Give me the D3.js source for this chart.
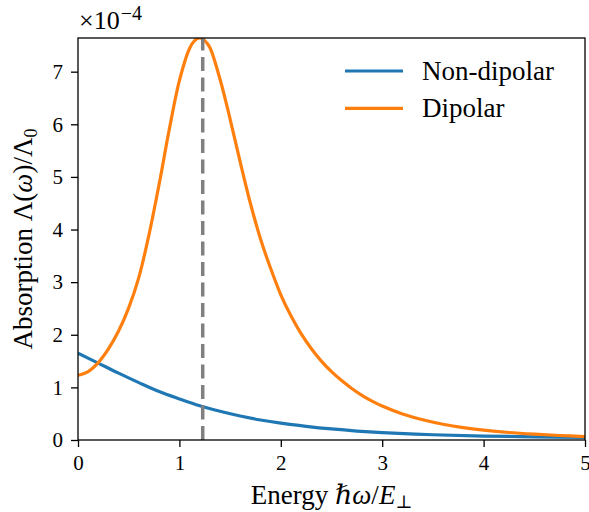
<!DOCTYPE html>
<html>
<head>
<meta charset="utf-8">
<script src="https://cdn.jsdelivr.net/npm/d3@7"></script>
<style>
  body { margin: 0; background: #fff; }
  svg { font-family: "Liberation Serif", "DejaVu Serif", serif; }
</style>
</head>
<body>
<svg id="chart" width="589" height="512"></svg>
<script>
// values are in units of 1e-4 (see the ×10^-4 offset label)
const energyDipolar = [0, 0.1, 0.2, 0.3, 0.4, 0.5, 0.6, 0.7, 0.8, 0.9, 1.0, 1.1, 1.15, 1.2, 1.25, 1.3, 1.4, 1.5, 1.6, 1.7, 1.8, 1.9, 2.0, 2.1, 2.2, 2.3, 2.4, 2.5, 2.6, 2.7, 2.8, 2.9, 3.0, 3.2, 3.4, 3.6, 3.8, 4.0, 4.25, 4.5, 4.75, 5.0];
const dipolar = [1.23, 1.30, 1.47, 1.73, 2.07, 2.51, 3.09, 3.90, 4.86, 5.90, 6.83, 7.44, 7.59, 7.64, 7.59, 7.46, 6.86, 6.10, 5.28, 4.50, 3.82, 3.26, 2.76, 2.36, 2.02, 1.74, 1.50, 1.30, 1.13, 0.98, 0.85, 0.74, 0.645, 0.495, 0.385, 0.30, 0.235, 0.187, 0.142, 0.11, 0.085, 0.066];

const energyNonDipolar = [0, 0.2, 0.4, 0.6, 0.8, 1.0, 1.2, 1.4, 1.6, 1.8, 2.0, 2.25, 2.5, 2.75, 3.0, 3.5, 4.0, 4.5, 5.0];
const nonDipolar = [1.65, 1.46, 1.27, 1.09, 0.92, 0.78, 0.65, 0.545, 0.455, 0.38, 0.32, 0.26, 0.21, 0.17, 0.14, 0.10, 0.075, 0.06, 0.05];

const peakEnergy = 1.23;
const xTicks = [0, 1, 2, 3, 4, 5];
const yTicks = [0, 1, 2, 3, 4, 5, 6, 7];

const blue = '#1f77b4';
const orange = '#ff7f0e';

const svg = d3.select('#chart');
const margin = { top: 38, right: 4, bottom: 72, left: 78 };
const width = 589 - margin.left - margin.right;
const height = 512 - margin.top - margin.bottom;

const x = d3.scaleLinear().domain([0, 5]).range([0, width]);
const y = d3.scaleLinear().domain([0, d3.max(dipolar)]).range([height, 0]);

const g = svg.append('g').attr('transform', `translate(${margin.left},${margin.top})`);

g.append('clipPath').attr('id', 'clip')
  .append('rect').attr('width', width).attr('height', height);

const plot = g.append('g').attr('clip-path', 'url(#clip)');

const line = d3.line()
  .x(d => x(d[0]))
  .y(d => y(d[1]))
  .curve(d3.curveCatmullRom.alpha(0.5));

plot.append('path')
  .attr('d', line(d3.zip(energyNonDipolar, nonDipolar)))
  .attr('fill', 'none')
  .attr('stroke', blue)
  .attr('stroke-width', 3.2);

plot.append('path')
  .attr('d', line(d3.zip(energyDipolar, dipolar)))
  .attr('fill', 'none')
  .attr('stroke', orange)
  .attr('stroke-width', 3.2);

// peak marker
plot.append('line')
  .attr('x1', x(peakEnergy)).attr('x2', x(peakEnergy))
  .attr('y1', height).attr('y2', 0)
  .attr('stroke', 'gray')
  .attr('stroke-width', 3.5)
  .attr('stroke-dasharray', '14,6.5');

// axes
const xAxis = g.append('g')
  .attr('transform', `translate(0,${height})`)
  .call(d3.axisBottom(x).tickValues(xTicks).tickSize(7).tickPadding(8).tickFormat(d3.format('d')));

const yAxis = g.append('g')
  .call(d3.axisLeft(y).tickValues(yTicks).tickSize(7).tickPadding(8).tickFormat(d3.format('d')));

[xAxis, yAxis].forEach(ax => {
  ax.select('.domain').remove();
  ax.selectAll('.tick line').attr('stroke', '#000').attr('stroke-width', 1.3);
  ax.selectAll('.tick text')
    .attr('fill', '#000')
    .style('font-family', '"Liberation Serif", serif')
    .style('font-size', '21px');
});

// frame
g.append('rect')
  .attr('width', width).attr('height', height)
  .attr('fill', 'none').attr('stroke', '#000').attr('stroke-width', 1.3);

// offset text
const offset = svg.append('text')
  .attr('x', margin.left + 1).attr('y', 29)
  .style('font-size', '26px');
offset.append('tspan').text('×10');
offset.append('tspan').attr('dx', 1).attr('dy', -9).style('font-size', '20px').text('−4');

// axis labels
const xLabel = svg.append('text')
  .attr('x', margin.left + width / 2).attr('y', 504)
  .attr('text-anchor', 'middle')
  .style('font-size', '27px');
xLabel.append('tspan').text('Energy ');
xLabel.append('tspan').style('font-style', 'italic').text('ℏω');
xLabel.append('tspan').text('/');
xLabel.append('tspan').style('font-style', 'italic').text('E');
xLabel.append('tspan').attr('dy', 4).style('font-size', '18px').text('⊥');

const yLabel = svg.append('text')
  .attr('transform', `translate(32,${margin.top + height / 2}) rotate(-90)`)
  .attr('text-anchor', 'middle')
  .style('font-size', '27px');
yLabel.append('tspan').text('Absorption Λ(');
yLabel.append('tspan').style('font-style', 'italic').text('ω');
yLabel.append('tspan').text(')/Λ');
yLabel.append('tspan').attr('dy', 5).style('font-size', '18px').text('0');

// legend
const legendItems = [
  { label: 'Non-dipolar', color: blue },
  { label: 'Dipolar', color: orange },
];
const legend = svg.append('g').attr('transform', 'translate(345,71)');
legendItems.forEach((item, i) => {
  const row = legend.append('g').attr('transform', `translate(0,${i * 37.3})`);
  row.append('line')
    .attr('x1', 0).attr('x2', 58)
    .attr('stroke', item.color).attr('stroke-width', 3.2);
  row.append('text')
    .attr('x', 77).attr('y', 9)
    .style('font-size', '27px')
    .text(item.label);
});
</script>
</body>
</html>
